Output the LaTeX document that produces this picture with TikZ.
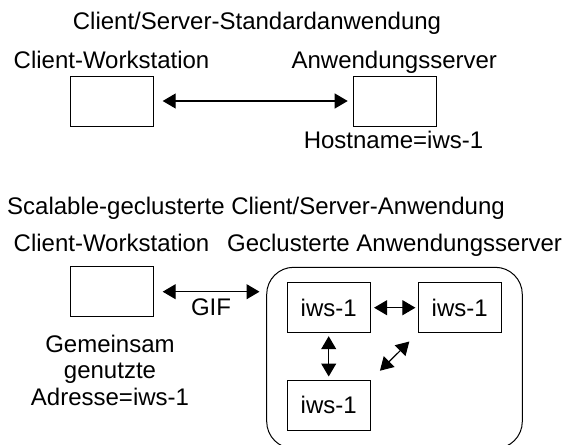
\documentclass[tikz,border=0pt]{standalone}
\usepackage{fontspec}
\setmainfont{Liberation Sans}
\usetikzlibrary{arrows.meta}
\begin{document}
\begin{tikzpicture}[x=1pt,y=-1pt,
  txt/.style={inner sep=0pt,anchor=base,font=\fontsize{24}{26.2}\selectfont},
  box/.style={draw=black,line width=1pt,minimum width=83pt,minimum height=50pt,inner sep=0pt,font=\fontsize{24}{26.2}\selectfont},
  conn/.style={line width=1.1pt,{Triangle[length=13pt,width=15pt]}-{Triangle[length=13pt,width=15pt]}}
]
\useasboundingbox (0,0) rectangle (566,445);
\clip (0,0) rectangle (566,445);
% top part
\node[txt] (t1) at (257,29) {Client/Server-Standardanwendung};
\node[txt] (l1) at (111.5,68) {Client-Workstation};
\node[txt] (l2) at (394.3,68) {Anwendungsserver};
\node[box] (b1) at (112.2,101) {};
\node[box] (b2) at (394.7,101) {};
\node[txt] (hn) at (393.5,148.3) {Hostname=iws-1};
\draw[conn,shorten <=8.5pt,shorten >=5pt] (b1.east) -- (b2.west);
% bottom part
\node[txt] (t2) at (256,214) {Scalable-geclusterte Client/Server-Anwendung};
\node[txt] (l3) at (111.5,251.7) {Client-Workstation};
\node[txt] (l4) at (394.5,251.7) {Geclusterte Anwendungsserver};
\node[box] (cb) at (112.2,291.7) {};
\node[draw=black,line width=1pt,rounded corners=27pt,minimum width=255.6pt,minimum height=181.2pt,inner sep=0pt] (cont) at (394.5,357.9) {};
\draw[conn,shorten <=8.5pt,shorten >=6.7pt] (cb.east) -- (cb.east -| cont.west);
\node[txt] (gif) at (211,315) {GIF};
\node[txt,align=center] (addr) at (110,405) {Gemeinsam\\genutzte\\Adresse=iws-1};
\node[box] (i1) at (328.7,307.7) {iws-1};
\node[box] (i2) at (459.7,307.7) {iws-1};
\node[box] (i3) at (328.7,405.4) {iws-1};
\draw[conn,shorten <=3.4pt,shorten >=2.3pt] (i1.east) -- (i2.west);
\draw[conn,shorten <=3pt,shorten >=3.4pt] (i1.south) -- (i3.north);
\draw[conn,shorten <=13pt,shorten >=11.8pt] (i3.north east) -- (i2.south west);
\end{tikzpicture}
\end{document}
